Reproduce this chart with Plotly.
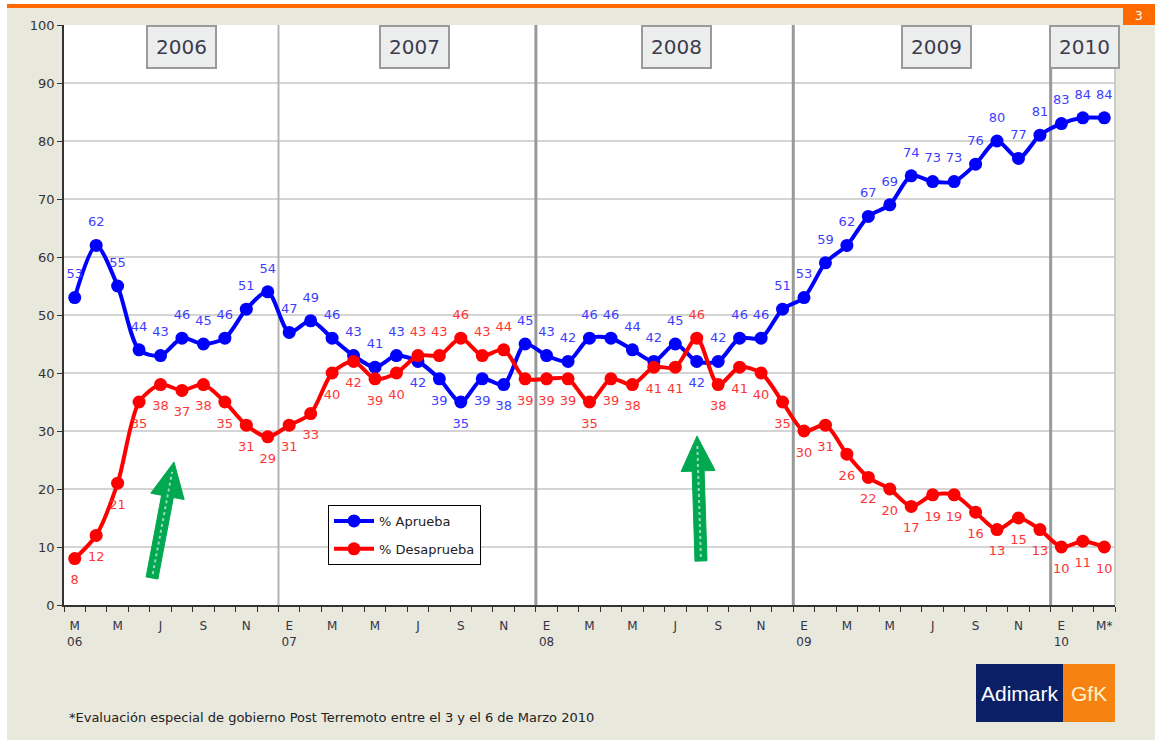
import math
import plotly.graph_objects as go

# ---------------- data ----------------
aprueba = [53, 62, 55, 44, 43, 46, 45, 46, 51, 54,
           47, 49, 46, 43, 41, 43, 42, 39, 35, 39, 38, 45,
           43, 42, 46, 46, 44, 42, 45, 42, 42, 46, 46, 51,
           53, 59, 62, 67, 69, 74, 73, 73, 76, 80, 77, 81,
           83, 84, 84]
desaprueba = [8, 12, 21, 35, 38, 37, 38, 35, 31, 29,
              31, 33, 40, 42, 39, 40, 43, 43, 46, 43, 44, 39,
              39, 39, 35, 39, 38, 41, 41, 46, 38, 41, 40, 35,
              30, 31, 26, 22, 20, 17, 19, 19, 16, 13, 15, 13,
              10, 11, 10]
tick_labels = ["M<br>06", "M", "J", "S", "N",
               "E<br>07", "M", "M", "J", "S", "N",
               "E<br>08", "M", "M", "J", "S", "N",
               "E<br>09", "M", "M", "J", "S", "N",
               "E<br>10", "M*"]
years = ["2006", "2007", "2008", "2009", "2010"]
year_start_index = [0, 10, 22, 34, 46]
series_names = ["% Aprueba", "% Desaprueba"]
footnote = "*Evaluación especial de gobierno Post Terremoto entre el 3 y el 6 de Marzo 2010"

# ---------------- style ----------------
W, H = 1155, 740
ML, MR, MT, MB = 64, 40, 25, 135
PW, PH = W - ML - MR, H - MT - MB
BEIGE = "#e9e8dd"
BLUE, RED = "#0000ff", "#ff0000"
BLUE_TXT, RED_TXT = "#3d3dff", "#ff3535"
GREEN = "#00a84f"
FONT = "DejaVu Sans"

def fx(p):
    return (p - ML) / PW

def fy(p):
    return (H - MB - p) / PH

n = len(aprueba)
x = list(range(n))

# label placement (style only)
flip = {16, 17, 18, 19, 20, 29}
blue_pos = ["bottom center" if i in flip else "top center" for i in x]
red_pos = ["top center" if i in flip else "bottom center" for i in x]

fig = go.Figure()

for vals, name, col in [(aprueba, series_names[0], BLUE), (desaprueba, series_names[1], RED)]:
    fig.add_trace(go.Scatter(
        x=x, y=vals, name=name, mode="lines+markers",
        line=dict(color=col, width=4, shape="spline", smoothing=0.8),
        marker=dict(color=col, size=13),
        legendgroup=name,
    ))

for vals, pos, col in [(aprueba, blue_pos, BLUE_TXT), (desaprueba, red_pos, RED_TXT)]:
    fig.add_trace(go.Scatter(
        x=x, y=vals, mode="markers+text", text=[str(v) for v in vals],
        marker=dict(size=24, opacity=0, color=col),
        textposition=pos, textfont=dict(family=FONT, size=13, color=col),
        showlegend=False, hoverinfo="skip",
    ))

shapes = []
# year divider lines
for k, idx in enumerate(year_start_index[1:]):
    shapes.append(dict(type="line", xref="x", yref="y", x0=idx - 0.5, x1=idx - 0.5,
                       y0=0, y1=100, layer="between",
                       line=dict(color="#b4b4b4" if k == 0 else "#999999",
                                 width=2 if k == 0 else 3)))
# right border of plot
shapes.append(dict(type="line", xref="paper", yref="paper", x0=1, x1=1, y0=0, y1=1,
                   line=dict(color="#cccccc", width=2)))
# white page strips, orange top line, page tab
shapes.append(dict(type="rect", xref="paper", yref="paper", x0=fx(0), x1=fx(7), y0=fy(H), y1=fy(0),
                   fillcolor="white", line=dict(width=0), layer="below"))
shapes.append(dict(type="rect", xref="paper", yref="paper", x0=fx(0), x1=fx(W), y0=fy(4), y1=fy(0),
                   fillcolor="white", line=dict(width=0), layer="below"))
shapes.append(dict(type="rect", xref="paper", yref="paper", x0=fx(7), x1=fx(W), y0=fy(8), y1=fy(4),
                   fillcolor="#ff6a00", line=dict(width=0)))
shapes.append(dict(type="rect", xref="paper", yref="paper", x0=fx(1123), x1=fx(W), y0=fy(25), y1=fy(8),
                   fillcolor="#ff6a00", line=dict(width=0)))
# logo
shapes.append(dict(type="rect", xref="paper", yref="paper", x0=fx(976), x1=fx(1063), y0=fy(722), y1=fy(664),
                   fillcolor="#0b1f66", line=dict(width=0)))
shapes.append(dict(type="rect", xref="paper", yref="paper", x0=fx(1063), x1=fx(1115), y0=fy(722), y1=fy(664),
                   fillcolor="#f68212", line=dict(width=0)))

# green arrows
def arrow(tail, tip, w=6, hw=17, hl=35):
    dx, dy = tip[0] - tail[0], tip[1] - tail[1]
    L = math.hypot(dx, dy)
    ux, uy = dx / L, dy / L
    nx, ny = -uy, ux
    bx, by = tip[0] - ux * hl, tip[1] - uy * hl
    pts = [(tail[0] + nx * w, tail[1] + ny * w), (bx + nx * w, by + ny * w),
           (bx + nx * hw, by + ny * hw), tip, (bx - nx * hw, by - ny * hw),
           (bx - nx * w, by - ny * w), (tail[0] - nx * w, tail[1] - ny * w)]
    path = "M " + " L ".join(f"{fx(a):.5f},{fy(b):.5f}" for a, b in pts) + " Z"
    shapes.append(dict(type="path", xref="paper", yref="paper", path=path,
                       fillcolor=GREEN, line=dict(color=GREEN, width=1)))
    shapes.append(dict(type="line", xref="paper", yref="paper",
                       x0=fx(tail[0] + ux * 4), y0=fy(tail[1] + uy * 4),
                       x1=fx(tip[0] - ux * 10), y1=fy(tip[1] - uy * 10),
                       line=dict(color="#9fd6c4", width=2, dash="dot")))

arrow((152, 578), (174, 462))
arrow((701, 561), (697, 436))

annotations = []
year_centers = [181, 414, 676, 936, 1084]
for yr, cx in zip(years, year_centers):
    annotations.append(dict(xref="paper", yref="paper", x=fx(cx), y=fy(47), text=yr,
                            showarrow=False, font=dict(family=FONT, size=20, color="#3c3c4e"),
                            bgcolor="#eceeee", bordercolor="#9a9a9a", borderwidth=2, borderpad=8,
                            xanchor="center", yanchor="middle"))
annotations.append(dict(xref="paper", yref="paper", x=fx(67), y=fy(718), text=footnote,
                        showarrow=False, xanchor="left", yanchor="middle",
                        font=dict(family=FONT, size=13, color="#222222")))
annotations.append(dict(xref="paper", yref="paper", x=fx(1019.5), y=fy(693), text="Adimark",
                        showarrow=False, xanchor="center", yanchor="middle",
                        font=dict(family="Liberation Sans", size=21, color="white")))
annotations.append(dict(xref="paper", yref="paper", x=fx(1089), y=fy(693), text="GfK",
                        showarrow=False, xanchor="center", yanchor="middle",
                        font=dict(family="Liberation Sans", size=21, color="#fff3d0")))
annotations.append(dict(xref="paper", yref="paper", x=fx(1139), y=fy(16), text="3",
                        showarrow=False, xanchor="center", yanchor="middle",
                        font=dict(family=FONT, size=12, color="white")))

fig.update_layout(
    width=W, height=H, autosize=False,
    margin=dict(l=ML, r=MR, t=MT, b=MB, pad=0),
    paper_bgcolor=BEIGE, plot_bgcolor="white",
    font=dict(family=FONT, color="#333333"),
    shapes=shapes, annotations=annotations,
    showlegend=True,
    legend=dict(x=fx(328), y=fy(505), xanchor="left", yanchor="top",
                bgcolor="white", bordercolor="black", borderwidth=1,
                font=dict(family=FONT, size=13, color="#222222"),
                traceorder="grouped", tracegroupgap=8, itemwidth=40),
    xaxis=dict(range=[-0.5, n - 0.5], tickmode="array", tickvals=x[::2], ticktext=tick_labels,
               ticks="outside", ticklen=9, tickcolor="rgba(0,0,0,0)",
               showgrid=False, zeroline=False, showline=True, linecolor="#333333", linewidth=1.5,
               tickfont=dict(family=FONT, size=12, color="#333344"),
               minor=dict(tickmode="array", tickvals=[i - 0.5 for i in range(n + 1)],
                          ticks="outside", ticklen=5, tickcolor="#333333", tickwidth=1, showgrid=False)),
    yaxis=dict(range=[0, 100], tickmode="linear", tick0=0, dtick=10,
               ticks="outside", ticklen=5, tickcolor="#333333",
               showgrid=True, gridcolor="#d4d4d4", gridwidth=1.5, zeroline=False,
               showline=True, linecolor="#333333", linewidth=1.5,
               tickfont=dict(family=FONT, size=13, color="#333333")),
)

fig.write_html("out.html", config={"displayModeBar": False},
               post_script="document.body.style.margin='0';document.body.style.overflow='hidden';")
